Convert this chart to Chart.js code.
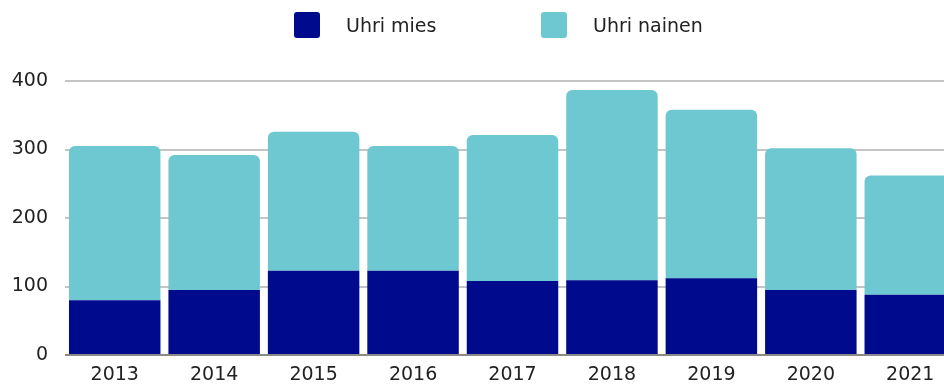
<!DOCTYPE html>
<html>
<head>
<meta charset="utf-8">
<script src="https://cdn.jsdelivr.net/npm/chart.js@4/dist/chart.umd.min.js"></script>
<style>
  html, body { margin: 0; padding: 0; background: #fff; overflow: hidden; }
  #wrap { position: relative; width: 960px; height: 387px; }
  .lg { position: absolute; top: 12px; font: 19px "DejaVu Sans", sans-serif; color: #222; line-height: 26px; }
  .lg span { position: absolute; left: 0; top: 0; width: 26px; height: 26px; border-radius: 3px; }
  .lg b { font-weight: normal; position: absolute; left: 52px; top: 0; white-space: nowrap; }
</style>
</head>
<body>
<div id="wrap">
  <canvas id="chart" width="960" height="387"></canvas>
  <div class="lg" style="left:294px"><span style="background:#000a8c"></span><b>Uhri mies</b></div>
  <div class="lg" style="left:541px"><span style="background:#6ec8d1"></span><b>Uhri nainen</b></div>
</div>
<script>
let years = ['2013', '2014', '2015', '2016', '2017', '2018', '2019', '2020', '2021'];
let uhriMies = [80, 95, 123, 123, 108, 109, 112, 95, 88];
let uhriNainen = [225, 197, 203, 182, 213, 278, 246, 207, 174];
let yTicks = [0, 100, 200, 300, 400];

let ctx = document.getElementById('chart').getContext('2d');
let chart = new Chart(ctx, {
  type: 'bar',
  data: {
    labels: years,
    datasets: [{
      label: 'Uhri mies',
      data: uhriMies,
      backgroundColor: '#000a8c',
      borderWidth: 0,
    }, {
      label: 'Uhri nainen',
      data: uhriNainen,
      backgroundColor: '#6ec8d1',
      borderWidth: 0,
      borderRadius: { topLeft: 6, topRight: 6 },
      borderSkipped: 'start',
    }]
  },
  options: {
    responsive: false,
    animation: false,
    layout: { padding: { top: 81, left: 0, right: 0, bottom: 0 } },
    plugins: {
      legend: { display: false },
      tooltip: { enabled: false },
    },
    datasets: {
      bar: { categoryPercentage: 1, barPercentage: 0.92 }
    },
    scales: {
      x: {
        stacked: true,
        afterFit: s => { s.height = 32; },
        grid: { display: false, drawTicks: false },
        border: { display: false },
        ticks: {
          padding: 9,
          color: '#222',
          font: { family: 'DejaVu Sans', size: 19 },
        },
      },
      y: {
        stacked: true,
        min: 0,
        max: 400,
        afterBuildTicks: s => { s.ticks = yTicks.map(v => ({ value: v })); },
        afterFit: s => { s.width = 65; },
        grid: {
          drawTicks: false,
          lineWidth: 2,
          color: c => c.tick && c.tick.value === 0 ? '#8a8a8a' : '#c4c4c4',
        },
        border: { display: false },
        ticks: {
          padding: 17,
          color: '#222',
          font: { family: 'DejaVu Sans', size: 19 },
        },
      },
    },
  }
});
</script>
</body>
</html>
